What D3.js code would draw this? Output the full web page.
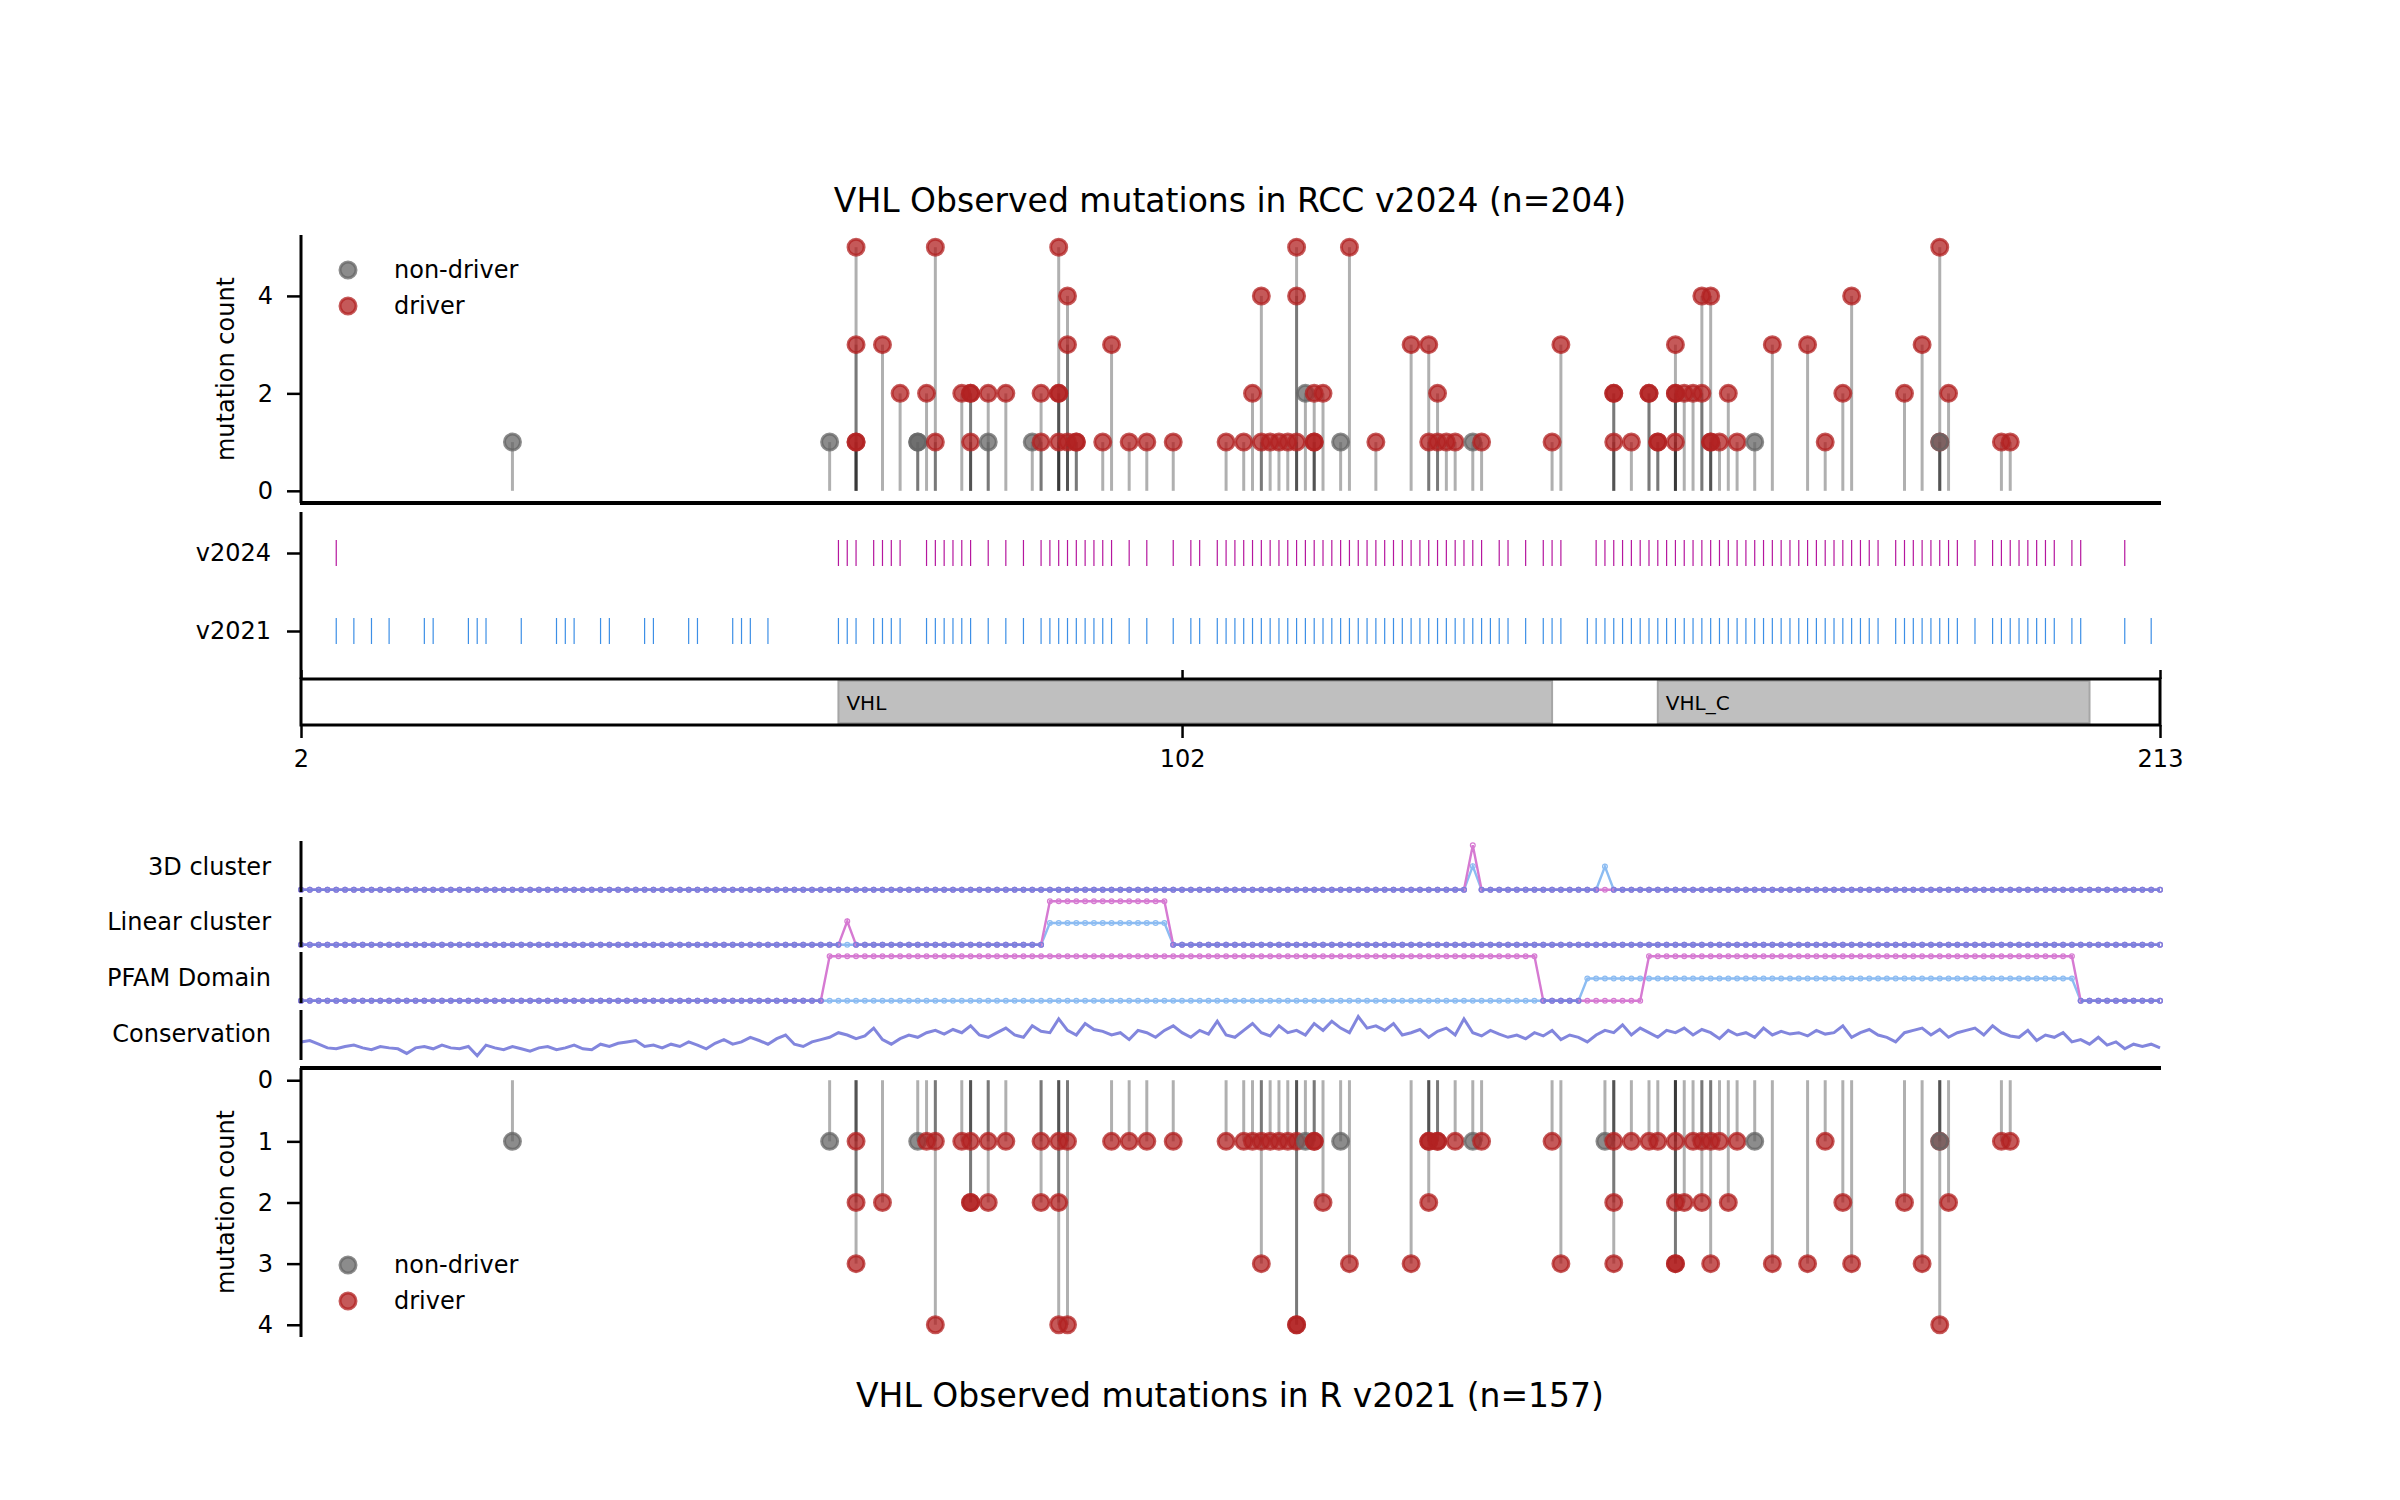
<!DOCTYPE html>
<html>
<head>
<script src="https://d3js.org/d3.v7.min.js"></script>
<style>
  body { margin: 0; background: #fff; }
  text { font-family: "DejaVu Sans", sans-serif; }
</style>
</head>
<body>
<script>
// ---- data: v2024 observed mutations (position, count, driver flag)
const pos24 = [26,62,65,65,65,65,68,70,72,72,73,74,74,77,78,78,78,80,80,82,85,86,86,88,88,88,88,89,89,89,90,90,93,94,96,98,101,107,109,110,111,111,112,113,114,115,115,115,116,117,117,117,118,120,121,124,128,130,130,131,131,132,133,135,136,144,145,151,151,151,153,155,155,156,156,158,158,158,158,159,160,161,161,162,162,162,163,164,165,167,169,173,175,177,178,184,186,188,188,188,189,195,196];
const cnt24 = [1,1,1,1,3,5,3,2,1,1,2,1,5,2,1,2,2,2,1,2,1,1,2,1,2,2,5,1,3,4,1,1,1,3,1,1,1,1,1,2,1,4,1,1,1,1,4,5,2,1,1,2,2,1,5,1,3,1,3,1,2,1,1,1,1,1,3,1,2,2,1,2,2,1,1,1,2,2,3,2,2,2,4,1,1,4,1,2,1,1,3,3,1,2,4,2,3,1,1,5,2,1,1];
const drv24 = [0,0,1,1,1,1,1,1,0,0,1,1,1,1,1,1,1,1,0,1,0,1,1,1,1,1,1,1,1,1,1,1,1,1,1,1,1,1,1,1,1,1,1,1,1,1,1,1,0,1,1,1,1,0,1,1,1,1,1,1,1,1,1,0,1,1,1,1,1,1,1,1,1,1,1,1,1,1,1,1,1,1,1,1,1,1,1,1,1,0,1,1,1,1,1,1,1,1,0,1,1,1,1];

// ---- data: v2021 observed mutations
const pos21 = [26,62,65,65,65,68,72,73,74,74,77,78,78,78,80,80,82,86,86,88,88,88,89,89,94,96,98,101,107,109,110,111,111,112,113,114,115,115,115,116,117,117,118,120,121,128,130,130,130,131,131,133,135,136,144,145,150,151,151,151,153,155,156,158,158,158,158,159,160,161,161,162,162,163,164,165,167,169,173,175,177,178,184,186,188,188,188,189,195,196];
const cnt21 = [1,1,1,2,3,2,1,1,1,4,1,1,2,2,1,2,1,1,2,1,2,4,1,4,1,1,1,1,1,1,1,1,3,1,1,1,1,4,4,1,1,1,2,1,3,3,1,1,2,1,1,1,1,1,1,3,1,1,2,3,1,1,1,1,2,3,3,2,1,1,2,1,3,1,2,1,1,3,3,1,2,3,2,3,1,1,4,2,1,1];
const drv21 = [0,0,1,1,1,1,0,1,1,1,1,1,1,1,1,1,1,1,1,1,1,1,1,1,1,1,1,1,1,1,1,1,1,1,1,1,1,1,1,0,1,1,1,0,1,1,1,1,1,1,1,1,0,1,1,1,0,1,1,1,1,1,1,1,1,1,1,1,1,1,1,1,1,1,1,1,0,1,1,1,1,1,1,1,1,0,1,1,1,1];

// ---- data: tick tracks
const ticksV2024 = [6,63,64,65,67,68,69,70,73,74,75,76,77,78,80,82,84,86,87,88,89,90,91,92,93,94,96,98,101,103,104,106,107,108,109,110,111,112,113,114,115,116,117,118,119,120,121,122,123,124,125,126,127,128,129,130,131,132,133,134,135,136,138,139,141,143,144,145,149,150,151,152,153,154,155,156,157,158,159,160,161,162,163,164,165,166,167,168,169,170,171,172,173,174,175,176,177,178,179,180,181,183,184,185,186,187,188,189,190,192,194,195,196,197,198,199,200,201,203,204,209];
const ticksV2021 = [6,8,10,12,16,17,21,22,23,27,31,32,33,36,37,41,42,46,47,51,52,53,55,63,64,65,67,68,69,70,73,74,75,76,77,78,80,82,84,86,87,88,89,90,91,92,93,94,96,98,101,103,104,106,107,108,109,110,111,112,113,114,115,116,117,118,119,120,121,122,123,124,125,126,127,128,129,130,131,132,133,134,135,136,137,138,139,141,143,144,145,148,149,150,151,152,153,154,155,156,157,158,159,160,161,162,163,164,165,166,167,168,169,170,171,172,173,174,175,176,177,178,179,180,181,183,184,185,186,187,188,189,190,192,194,195,196,197,198,199,200,201,203,204,209,212];

// ---- data: PFAM domains
const domainNames = ["VHL", "VHL_C"];
const domainStart = [63, 156];
const domainEnd = [144, 205];

// ---- data: feature tracks as [start, end, value] ranges
const cluster3dV2024 = [[135, 135, 1.0]];
const cluster3dV2021 = [[135, 135, 0.53], [150, 150, 0.52]];
const linearV2024 = [[64, 64, 0.54], [87, 100, 1.0]];
const linearV2021 = [[87, 100, 0.5]];
const pfamV2024 = [[62, 142, 1.0], [155, 203, 1.0]];
const pfamV2021 = [[148, 203, 0.5]];

// conservation score per residue 2..213 (normalised)
const conservation = [0.35,0.38,0.3,0.22,0.2,0.25,0.28,0.22,0.18,0.25,0.22,0.2,0.1,0.22,0.25,0.2,0.28,0.22,0.2,0.25,0.05,
  0.28,0.22,0.18,0.25,0.2,0.15,0.22,0.25,0.18,0.22,0.28,0.2,0.18,0.3,0.25,0.32,0.35,0.38,
  0.25,0.28,0.22,0.3,0.25,0.35,0.28,0.2,0.32,0.4,0.3,0.35,0.45,0.38,0.3,0.42,0.5,0.3,0.25,0.35,
  0.4,0.45,0.55,0.5,0.42,0.48,0.65,0.4,0.3,0.42,0.5,0.45,0.55,0.6,0.52,0.62,0.55,0.7,0.5,0.45,
  0.55,0.65,0.5,0.45,0.7,0.58,0.55,0.85,0.6,0.5,0.75,0.62,0.58,0.5,0.55,0.4,0.6,0.55,0.45,0.6,
  0.7,0.55,0.45,0.6,0.52,0.8,0.5,0.45,0.6,0.75,0.55,0.48,0.7,0.55,0.6,0.5,0.75,0.6,0.8,0.65,
  0.55,0.9,0.65,0.7,0.6,0.75,0.5,0.55,0.62,0.45,0.58,0.65,0.5,0.85,0.55,0.48,0.6,0.52,0.45,0.5,
  0.42,0.55,0.48,0.6,0.4,0.5,0.45,0.35,0.5,0.6,0.55,0.72,0.5,0.65,0.55,0.45,0.6,0.55,0.65,0.5,
  0.62,0.55,0.42,0.6,0.5,0.55,0.45,0.65,0.5,0.58,0.52,0.55,0.48,0.6,0.52,0.55,0.7,0.45,0.55,0.62,
  0.5,0.45,0.35,0.55,0.6,0.65,0.5,0.62,0.45,0.55,0.6,0.65,0.5,0.7,0.55,0.48,0.45,0.6,0.38,0.5,
  0.45,0.55,0.35,0.4,0.3,0.45,0.28,0.35,0.2,0.3,0.25,0.3,0.22];

const xTicks = [2, 102, 213];

// ---- layout
const FONT = "DejaVu Sans";
const svg = d3.select("body").append("svg").attr("width", 2400).attr("height", 1500);
const x = d3.scaleLinear().domain([2, 213]).range([301, 2160]);
const residues = d3.range(2, 214);
const fmt = d3.format("d");

function styleAxis(g, size) {
  g.attr("font-family", FONT).attr("font-size", size);
  g.select(".domain").remove();
  g.selectAll(".tick line").attr("stroke", "#000").attr("stroke-width", 2.5);
  g.selectAll(".tick text").attr("fill", "#000");
}
function vline(xp, y1, y2, w) {
  svg.append("line").attr("x1", xp).attr("x2", xp).attr("y1", y1).attr("y2", y2)
    .attr("stroke", "#000").attr("stroke-width", w || 3);
}
function hline(y, x1, x2, w) {
  svg.append("line").attr("x1", x1).attr("x2", x2).attr("y1", y).attr("y2", y)
    .attr("stroke", "#000").attr("stroke-width", w || 3);
}

const RED = "#b22222", GREY = "#666666";

function lollipops(pos, cnt, drv, y) {
  const data = pos.map((p, i) => ({ p: p, c: cnt[i], d: drv[i] }));
  const g = svg.append("g");
  g.selectAll("line").data(data).join("line")
    .attr("x1", d => x(d.p)).attr("x2", d => x(d.p))
    .attr("y1", y(0)).attr("y2", d => y(d.c))
    .attr("stroke", "#000").attr("stroke-opacity", 0.31).attr("stroke-width", 3);
  g.selectAll("circle").data(data).join("circle")
    .attr("cx", d => x(d.p)).attr("cy", d => y(d.c)).attr("r", 8)
    .attr("fill", d => d.d ? RED : GREY).attr("fill-opacity", 0.75)
    .attr("stroke", d => d.d ? RED : GREY).attr("stroke-opacity", 0.75).attr("stroke-width", 3);
}

function legend(y0) {
  [["non-driver", GREY], ["driver", RED]].forEach((e, i) => {
    const yy = y0 + i * 36;
    svg.append("circle").attr("cx", 348).attr("cy", yy).attr("r", 8)
      .attr("fill", e[1]).attr("fill-opacity", 0.75)
      .attr("stroke", e[1]).attr("stroke-opacity", 0.75).attr("stroke-width", 3);
    svg.append("text").attr("x", 394).attr("y", yy).attr("dy", "0.35em")
      .attr("font-size", 24).text(e[0]);
  });
}

// ---- top title
svg.append("text").attr("x", 1230).attr("y", 200).attr("dy", "0.35em")
  .attr("text-anchor", "middle").attr("font-size", 33)
  .text("VHL Observed mutations in RCC v2024 (n=204)");

// ---- top lollipop panel
const yTop = d3.scaleLinear().domain([-0.25, 5.25]).range([503, 235]);
svg.append("g").attr("transform", "translate(301,0)")
  .call(d3.axisLeft(yTop).tickValues([0, 2, 4]).tickFormat(fmt).tickSize(14).tickPadding(14).tickSizeOuter(0))
  .call(g => styleAxis(g, 24));
vline(301, 235, 503);
hline(503, 300, 2161, 4);
lollipops(pos24, cnt24, drv24, yTop);
legend(270);
svg.append("text").attr("transform", "translate(226,369) rotate(-90)")
  .attr("text-anchor", "middle").attr("dy", "0.35em").attr("font-size", 24).text("mutation count");

// ---- tick tracks
const trackY = { v2024: 553, v2021: 631 };
svg.append("g").attr("transform", "translate(301,0)")
  .call(d3.axisLeft(d3.scaleOrdinal().domain(["v2024", "v2021"]).range([553, 631]))
    .tickSize(14).tickPadding(16))
  .call(g => styleAxis(g, 24));
vline(301, 512, 679);
svg.append("g").selectAll("line").data(ticksV2024).join("line")
  .attr("x1", d => x(d)).attr("x2", d => x(d))
  .attr("y1", trackY.v2024 - 13).attr("y2", trackY.v2024 + 13)
  .attr("stroke", "#b5179e").attr("stroke-width", 1.2);
svg.append("g").selectAll("line").data(ticksV2021).join("line")
  .attr("x1", d => x(d)).attr("x2", d => x(d))
  .attr("y1", trackY.v2021 - 13).attr("y2", trackY.v2021 + 13)
  .attr("stroke", "#3d8fe6").attr("stroke-width", 1.2);

// ---- domain bar
const dom = domainNames.map((n, i) => ({ n: n, s: domainStart[i], e: domainEnd[i] }));
svg.append("g").selectAll("rect").data(dom).join("rect")
  .attr("x", d => x(d.s)).attr("width", d => x(d.e) - x(d.s))
  .attr("y", 681).attr("height", 42)
  .attr("fill", "#bfbfbf").attr("stroke", "#a6a6a6").attr("stroke-width", 2);
svg.append("g").selectAll("text").data(dom).join("text")
  .attr("x", d => x(d.s) + 8).attr("y", 703).attr("dy", "0.35em")
  .attr("font-size", 20).text(d => d.n);
svg.append("rect").attr("x", 301).attr("y", 679).attr("width", 1859).attr("height", 46)
  .attr("fill", "none").attr("stroke", "#000").attr("stroke-width", 3);
svg.append("g").attr("transform", "translate(0,725)")
  .call(d3.axisBottom(x).tickValues(xTicks).tickFormat(fmt).tickSize(13).tickPadding(12).tickSizeOuter(0))
  .call(g => styleAxis(g, 24));
svg.append("g").attr("transform", "translate(0,679)")
  .call(d3.axisTop(x).tickValues(xTicks).tickSize(9).tickFormat("").tickSizeOuter(0))
  .call(g => styleAxis(g, 24));

// ---- feature tracks
function expand(ranges) {
  return residues.map(p => {
    let v = 0;
    ranges.forEach(r => { if (p >= r[0] && p <= r[1]) v = r[2]; });
    return v;
  });
}
const BLUE_T = "#8cbcf2", PINK_T = "#d67ad2", BOTH_T = "#7b80dd";
function track(label, top, bottom, r24, r21) {
  const y = d3.scaleLinear().domain([-0.05, 1.05]).range([bottom, top]);
  const a = expand(r24), b = expand(r21);
  const line = d3.line().x((d, i) => x(residues[i])).y(d => y(d));
  const g = svg.append("g");
  [[b, BLUE_T], [a, PINK_T]].forEach(s => {
    g.append("path").datum(s[0]).attr("d", line).attr("fill", "none")
      .attr("stroke", s[1]).attr("stroke-width", 2.4);
    g.append("g").selectAll("circle").data(s[0]).join("circle")
      .attr("cx", (d, i) => x(residues[i])).attr("cy", d => y(d)).attr("r", 2.4)
      .attr("fill", "none").attr("stroke", s[1]).attr("stroke-width", 1.2);
  });
  const both = d3.line().defined((d, i) => a[i] === b[i])
    .x((d, i) => x(residues[i])).y(d => y(d));
  g.append("path").datum(a).attr("d", both).attr("fill", "none")
    .attr("stroke", BOTH_T).attr("stroke-width", 2.4);
  g.append("g").selectAll("circle").data(a.map((v, i) => [v, i]).filter(d => a[d[1]] === b[d[1]])).join("circle")
    .attr("cx", d => x(residues[d[1]])).attr("cy", d => y(d[0])).attr("r", 2.4)
    .attr("fill", "none").attr("stroke", BOTH_T).attr("stroke-width", 1.2);
  vline(301, top - 2, bottom);
  svg.append("text").attr("x", 271).attr("y", (top + bottom) / 2 - 1).attr("dy", "0.35em")
    .attr("text-anchor", "end").attr("font-size", 24).text(label);
}
track("3D cluster", 843, 892, cluster3dV2024, cluster3dV2021);
track("Linear cluster", 899, 947, linearV2024, linearV2021);
track("PFAM Domain", 954, 1003, pfamV2024, pfamV2021);

// conservation
const yCons = d3.scaleLinear().domain([0, 1]).range([1058, 1012]);
svg.append("path").datum(conservation)
  .attr("d", d3.line().x((d, i) => x(residues[i])).y(d => yCons(d)))
  .attr("fill", "none").attr("stroke", "#8286dd").attr("stroke-width", 3);
vline(301, 1010, 1060);
svg.append("text").attr("x", 271).attr("y", 1034).attr("dy", "0.35em")
  .attr("text-anchor", "end").attr("font-size", 24).text("Conservation");

// ---- bottom lollipop panel (inverted)
const yBot = d3.scaleLinear().domain([-0.2, 4.2]).range([1068, 1337]);
svg.append("g").attr("transform", "translate(301,0)")
  .call(d3.axisLeft(yBot).tickValues([0, 1, 2, 3, 4]).tickFormat(fmt).tickSize(14).tickPadding(14).tickSizeOuter(0))
  .call(g => styleAxis(g, 24));
vline(301, 1068, 1337);
hline(1068, 300, 2161, 4);
lollipops(pos21, cnt21, drv21, yBot);
legend(1265);
svg.append("text").attr("transform", "translate(226,1202) rotate(-90)")
  .attr("text-anchor", "middle").attr("dy", "0.35em").attr("font-size", 24).text("mutation count");

svg.append("text").attr("x", 1230).attr("y", 1395).attr("dy", "0.35em")
  .attr("text-anchor", "middle").attr("font-size", 33)
  .text("VHL Observed mutations in R v2021 (n=157)");
</script>
</body>
</html>
